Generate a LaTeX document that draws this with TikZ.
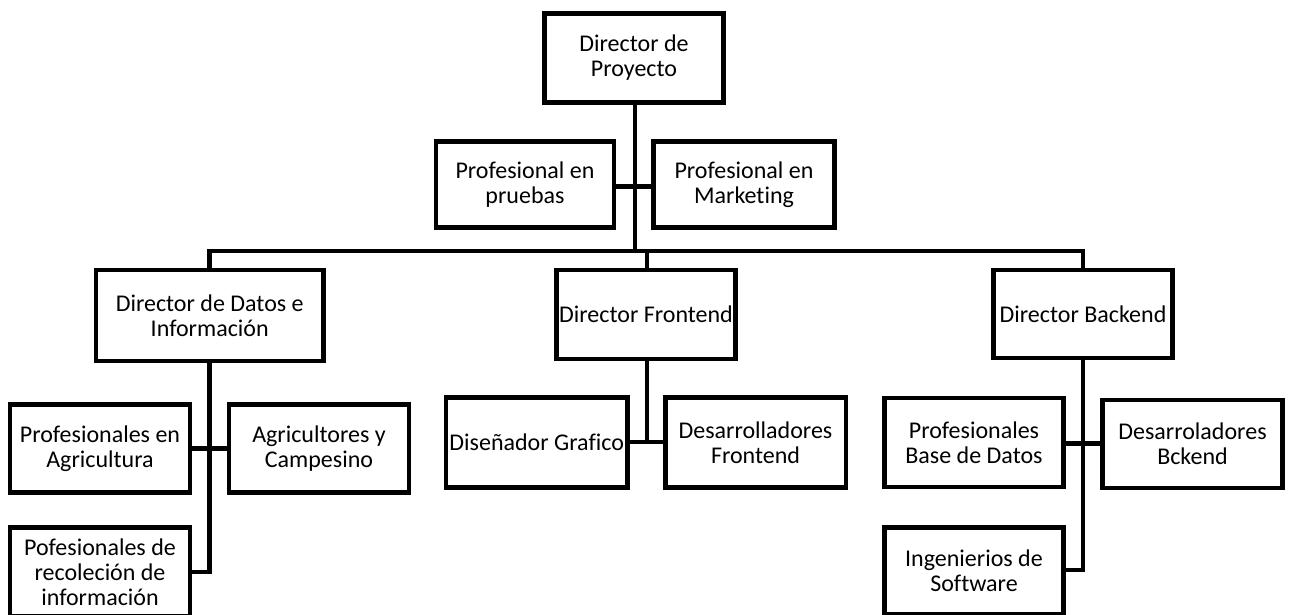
\documentclass[tikz,border=0pt]{standalone}
\usepackage{fontspec}
\setmainfont{Carlito}[Ligatures=NoCommon]
\begin{document}
\begin{tikzpicture}[x=1pt,y=-1pt,
  box/.style={draw=black, line width=4.6pt, fill=white, align=center, inner sep=0pt,
    font=\fontsize{24}{25}\selectfont},
  conn/.style={draw=black, line width=4.4pt}]
\useasboundingbox (0,0) rectangle (1291,615);
\clip (0,0) rectangle (1291,615);
% junction coordinates
\coordinate (bus1) at (209.3,250.7);
\coordinate (bus2) at (1082.7,250.7);
\coordinate (busm) at (635,250.7);
\coordinate (busf) at (646.7,250.7);
\coordinate (ddend) at (209.3,572);
\coordinate (dfend) at (646.7,441.7);
\coordinate (dbend) at (1082.7,570);
% boxes
\node[box, minimum width=179.5pt, minimum height=89pt] (dp) at (634,58) {Director de\\Proyecto};
\node[box, minimum width=178pt, minimum height=86pt] (pp) at (525,184.7) {Profesional en\\pruebas};
\node[box, minimum width=180.7pt, minimum height=86pt] (pm) at (744,184.5) {Profesional en\\Marketing};
\node[box, minimum width=227.7pt, minimum height=91pt] (dd) at (209.7,315.3) {Director de Datos e\\Información};
\node[box, minimum width=179pt, minimum height=89pt] (df) at (646,314.5) {Director Frontend};
\node[box, minimum width=179pt, minimum height=88pt] (db) at (1083,314) {Director Backend};
\node[box, minimum width=180pt, minimum height=88pt] (pa) at (100,448.3) {Profesionales en\\Agricultura};
\node[box, minimum width=180pt, minimum height=88pt] (ac) at (319,448.3) {Agricultores y\\Campesino};
\node[box, minimum width=180pt, minimum height=89pt] (pr) at (100,572) {Pofesionales de\\recoleción de\\información};
\node[box, minimum width=181.7pt, minimum height=90pt] (dg) at (536.7,442.5) {Diseñador Grafico};
\node[box, minimum width=180.6pt, minimum height=90pt] (dfr) at (755.5,442.5) {Desarrolladores\\Frontend};
\node[box, minimum width=179.3pt, minimum height=89pt] (pb) at (974,442.3) {Profesionales\\Base de Datos};
\node[box, minimum width=180pt, minimum height=88pt] (dbk) at (1192.5,444) {Desarroladores\\Bckend};
\node[box, minimum width=179pt, minimum height=87pt] (is) at (974,571) {Ingenierios de\\Software};
% connectors
\draw[conn] (dp.south -| busm) -- (busm);
\draw[conn] (pp.east |- 0,186.7) -- (pm.west |- 0,186.7);
\draw[conn, line cap=rect] (bus1) -- (bus2);
\draw[conn] (bus1) -- (dd.north -| bus1);
\draw[conn] (busf) -- (df.north -| busf);
\draw[conn] (bus2) -- (db.north -| bus2);
\draw[conn] (dd.south -| bus1) -- (ddend);
\draw[conn] (pa.east |- 0,448.3) -- (ac.west |- 0,448.3);
\draw[conn] (pr.east |- ddend) -- ([xshift=2.2pt]ddend);
\draw[conn] (df.south -| busf) -- (dfend);
\draw[conn] (dg.east |- dfend) -- (dfr.west |- dfend);
\draw[conn] (db.south -| bus2) -- (dbend);
\draw[conn] (pb.east |- 0,443.3) -- (dbk.west |- 0,443.3);
\draw[conn] (is.east |- dbend) -- ([xshift=2.2pt]dbend);
\end{tikzpicture}
\end{document}
